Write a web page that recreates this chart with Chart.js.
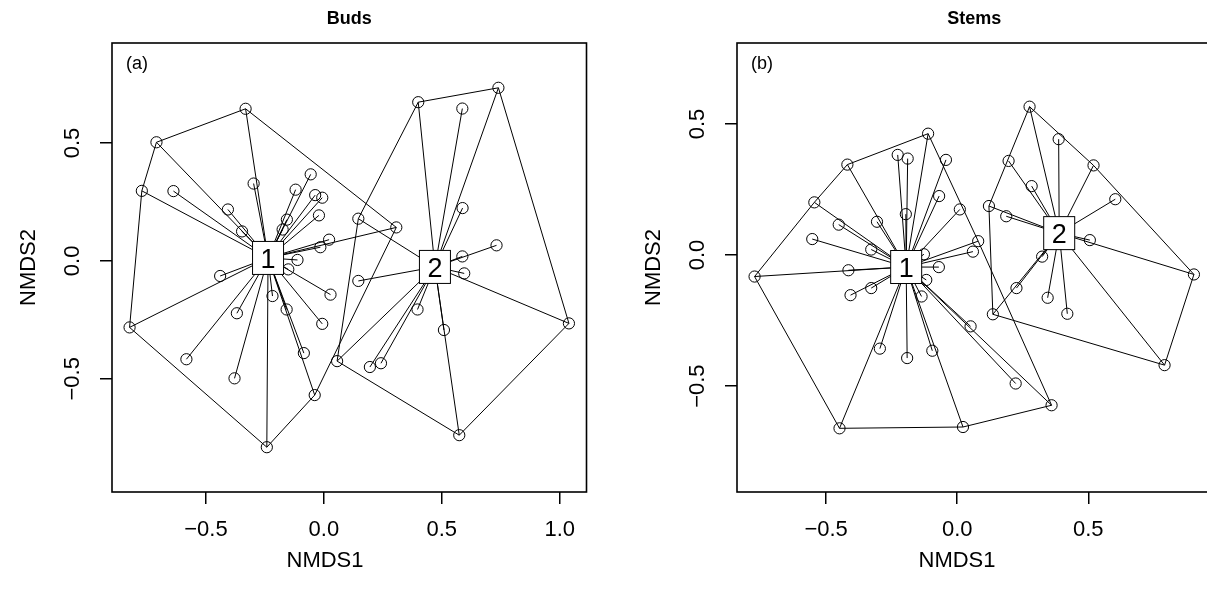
<!DOCTYPE html>
<html>
<head>
<meta charset="utf-8">
<title>NMDS – Buds and Stems</title>
<script src="https://cdn.jsdelivr.net/npm/chart.js@4.4.1/dist/chart.umd.min.js"></script>
<style>
  html, body { margin: 0; padding: 0; background: #fff; overflow: hidden; width: 1207px; height: 594px; }
  canvas { position: absolute; top: 0; }
  #buds { left: 0; }
  #stems { left: 600px; }
</style>
</head>
<body>
<canvas id="buds" width="620" height="594"></canvas>
<canvas id="stems" width="620" height="594"></canvas>
<script>
// ---- Buds: NMDS site scores by group ----
const budsG1X = [-0.332, -0.710, -0.772, -0.638, -0.407, -0.347, -0.298, -0.120, -0.056, -0.037, -0.007,
                 -0.021, -0.157, -0.175, 0.022, -0.015, -0.112, -0.151, -0.440, -0.824, 0.028, -0.218,
                 -0.369, -0.158, -0.007, -0.583, -0.379, -0.085, -0.039, -0.242, 0.307];
const budsG1Y = [0.645, 0.503, 0.297, 0.296, 0.218, 0.125, 0.328, 0.302, 0.367, 0.279, 0.268,
                 0.193, 0.175, 0.133, 0.090, 0.058, 0.004, -0.036, -0.064, -0.282, -0.143, -0.149,
                 -0.222, -0.206, -0.267, -0.417, -0.498, -0.391, -0.569, -0.790, 0.142];
const budsG1Hull = [0, 30, 28, 29, 19, 2, 1];

const budsG2X = [0.400, 0.740, 0.587, 0.588, 0.146, 0.732, 0.587, 0.595, 0.146, 0.397, 0.509,
                 0.195, 0.242, 0.056, 0.574, 1.039];
const budsG2Y = [0.673, 0.734, 0.646, 0.224, 0.179, 0.066, 0.019, -0.053, -0.085, -0.206, -0.293,
                 -0.450, -0.434, -0.425, -0.739, -0.265];
const budsG2Hull = [0, 1, 15, 14, 13, 4];

const budsXTicks = [-0.5, 0.0, 0.5, 1.0];
const budsXTickLabels = ['\u22120.5', '0.0', '0.5', '1.0'];
const budsYTicks = [-0.5, 0.0, 0.5];
const budsYTickLabels = ['\u22120.5', '0.0', '0.5'];

// ---- Stems: NMDS site scores by group ----
const stemsG1X = [-0.111, -0.419, -0.545, -0.227, -0.189, -0.043, -0.069, -0.196, 0.010, -0.306, -0.452,
                  -0.553, -0.328, 0.080, 0.060, -0.127, -0.070, -0.415, -0.773, -0.118, -0.328, -0.407,
                  -0.136, 0.051, -0.295, -0.191, -0.095, -0.449, 0.022, 0.223, 0.360];
const stemsG1Y = [0.463, 0.345, 0.201, 0.382, 0.368, 0.363, 0.225, 0.156, 0.174, 0.127, 0.116,
                  0.061, 0.021, 0.053, 0.013, 0.003, -0.046, -0.058, -0.082, -0.095, -0.126, -0.153,
                  -0.158, -0.272, -0.357, -0.393, -0.365, -0.661, -0.656, -0.490, -0.573];
const stemsG1Hull = [0, 13, 30, 28, 27, 18, 2, 1];

const stemsG2X = [0.276, 0.387, 0.196, 0.520, 0.284, 0.603, 0.121, 0.187, 0.506, 0.324, 0.226,
                  0.345, 0.420, 0.136, 0.791, 0.903];
const stemsG2Y = [0.566, 0.442, 0.359, 0.342, 0.263, 0.213, 0.187, 0.148, 0.057, -0.006, -0.126,
                  -0.163, -0.224, -0.226, -0.420, -0.074];
const stemsG2Hull = [0, 3, 15, 14, 13, 6];

const stemsXTicks = [-0.5, 0.0, 0.5];
const stemsXTickLabels = ['\u22120.5', '0.0', '0.5'];
const stemsYTicks = [-0.5, 0.0, 0.5];
const stemsYTickLabels = ['\u22120.5', '0.0', '0.5'];

const groupNames = ['1', '2'];

// ---- shared look ----
const FONT = "'Liberation Sans', Arial, Helvetica, sans-serif";
Chart.defaults.font.family = FONT;
Chart.defaults.color = '#000';

const PLOT_W = 474.5, PLOT_H = 449, PLOT_TOP = 43, AXIS_H = 102;
const TICK_LEN = 12, TICK_FONT = 22, LAB_FONT = 22;

const mean = a => a.reduce((s, v) => s + v, 0) / a.length;

// axis limits: 4% extension of the data range, then equal units on both axes
function limits(xs, ys) {
  let x0 = Math.min(...xs), x1 = Math.max(...xs);
  let y0 = Math.min(...ys), y1 = Math.max(...ys);
  const ex = 0.04 * (x1 - x0), ey = 0.04 * (y1 - y0);
  x0 -= ex; x1 += ex; y0 -= ey; y1 += ey;
  const u = Math.max((x1 - x0) / PLOT_W, (y1 - y0) / PLOT_H);
  const xc = (x0 + x1) / 2, yc = (y0 + y1) / 2;
  return { xmin: xc - u * PLOT_W / 2, xmax: xc + u * PLOT_W / 2,
           ymin: yc - u * PLOT_H / 2, ymax: yc + u * PLOT_H / 2 };
}

// frame, heading, panel letter, x-axis title and group labels at the centroids
const panelDecor = {
  id: 'panelDecor',
  afterDraw(chart, args, opts) {
    const { ctx, chartArea: a, scales } = chart;
    ctx.save();
    ctx.strokeStyle = '#000';
    ctx.lineWidth = 1.6;
    ctx.strokeRect(a.left, a.top, a.right - a.left, a.bottom - a.top);

    ctx.fillStyle = '#000';
    ctx.textAlign = 'center';
    ctx.textBaseline = 'alphabetic';
    ctx.font = 'bold 18px ' + FONT;
    ctx.fillText(opts.title, (a.left + a.right) / 2, 24);

    ctx.textAlign = 'left';
    ctx.font = '18px ' + FONT;
    ctx.fillText(opts.letter, a.left + 14, 69);

    ctx.textAlign = 'center';
    ctx.textBaseline = 'middle';
    ctx.font = LAB_FONT + 'px ' + FONT;
    ctx.fillText(opts.xTitle, a.left + opts.xTitleOffset, 561);

    ctx.textBaseline = 'alphabetic';
    opts.centroids.forEach(c => {
      const px = scales.x.getPixelForValue(c.x);
      const py = scales.y.getPixelForValue(c.y);
      const w = 31, h = 33;
      ctx.fillStyle = '#fff';
      ctx.fillRect(px - w / 2, py - h / 2, w, h);
      ctx.lineWidth = 1;
      ctx.strokeStyle = '#000';
      ctx.strokeRect(px - w / 2, py - h / 2, w, h);
      ctx.fillStyle = '#000';
      ctx.textAlign = 'center';
      ctx.font = '27px ' + FONT;
      ctx.fillText(c.label, px, py + 9.7);
    });
    ctx.restore();
  }
};

function makePanel(id, p) {
  const datasets = [];
  const centroids = [];
  p.groups.forEach((g, gi) => {
    const cx = mean(g.x), cy = mean(g.y);
    centroids.push({ x: cx, y: cy, label: groupNames[gi] });
    // convex hull
    const ring = g.hull.concat([g.hull[0]]).map(i => ({ x: g.x[i], y: g.y[i] }));
    datasets.push({ data: ring, showLine: true, pointRadius: 0, borderColor: '#000',
                    borderWidth: 1, tension: 0, fill: false });
    // spider from group centroid to each site
    g.x.forEach((xv, i) => {
      datasets.push({ data: [{ x: cx, y: cy }, { x: xv, y: g.y[i] }], showLine: true,
                      pointRadius: 0, borderColor: '#000', borderWidth: 1, tension: 0, fill: false });
    });
    // sites
    datasets.push({ data: g.x.map((xv, i) => ({ x: xv, y: g.y[i] })), showLine: false,
                    pointStyle: 'circle', pointRadius: 5.6, pointBorderWidth: 1,
                    borderColor: '#000', backgroundColor: 'rgba(0,0,0,0)' });
  });

  const allX = p.groups.flatMap(g => g.x), allY = p.groups.flatMap(g => g.y);
  const lim = limits(allX, allY);
  const canvas = document.getElementById(id);

  const gridOpts = { drawOnChartArea: false, drawTicks: true, tickLength: TICK_LEN,
                     color: '#000', tickColor: '#000', lineWidth: 1.5, tickWidth: 1.5 };

  return new Chart(canvas, {
    type: 'scatter',
    data: { datasets },
    options: {
      responsive: false,
      animation: false,
      events: [],
      layout: { padding: { top: PLOT_TOP, left: 0, bottom: 0,
                           right: canvas.width - p.axisW - PLOT_W } },
      plugins: {
        legend: { display: false },
        tooltip: { enabled: false },
        panelDecor: { title: p.title, letter: p.letter, centroids,
                      xTitle: 'NMDS1', xTitleOffset: p.xTitleOffset }
      },
      scales: {
        x: {
          type: 'linear', position: 'bottom', min: lim.xmin, max: lim.xmax,
          grid: gridOpts, border: { display: false },
          afterBuildTicks: s => { s.ticks = p.xTicks.map(v => ({ value: v })); },
          afterFit: s => { s.height = AXIS_H; },
          ticks: { autoSkip: false, maxRotation: 0, padding: 13,
                   font: { size: TICK_FONT }, color: '#000',
                   callback: (v, i) => p.xLabels[i] }
        },
        y: {
          type: 'linear', position: 'left', min: lim.ymin, max: lim.ymax,
          grid: gridOpts, border: { display: false },
          afterBuildTicks: s => { s.ticks = p.yTicks.map(v => ({ value: v })); },
          afterFit: s => { s.width = p.axisW; },
          ticks: { autoSkip: false, minRotation: 90, maxRotation: 90, crossAlign: 'center',
                   padding: 5, font: { size: TICK_FONT }, color: '#000',
                   callback: (v, i) => p.yLabels[i] },
          title: { display: true, text: 'NMDS2', color: '#000', font: { size: LAB_FONT },
                   padding: { top: p.yTitlePad, bottom: 0 } }
        }
      }
    },
    plugins: [panelDecor]
  });
}

makePanel('buds', {
  title: 'Buds', letter: '(a)', axisW: 112, yTitlePad: 16, xTitleOffset: 213,
  groups: [
    { x: budsG1X, y: budsG1Y, hull: budsG1Hull },
    { x: budsG2X, y: budsG2Y, hull: budsG2Hull }
  ],
  xTicks: budsXTicks, xLabels: budsXTickLabels,
  yTicks: budsYTicks, yLabels: budsYTickLabels
});

makePanel('stems', {
  title: 'Stems', letter: '(b)', axisW: 137, yTitlePad: 41, xTitleOffset: 220,
  groups: [
    { x: stemsG1X, y: stemsG1Y, hull: stemsG1Hull },
    { x: stemsG2X, y: stemsG2Y, hull: stemsG2Hull }
  ],
  xTicks: stemsXTicks, xLabels: stemsXTickLabels,
  yTicks: stemsYTicks, yLabels: stemsYTickLabels
});
</script>
</body>
</html>
